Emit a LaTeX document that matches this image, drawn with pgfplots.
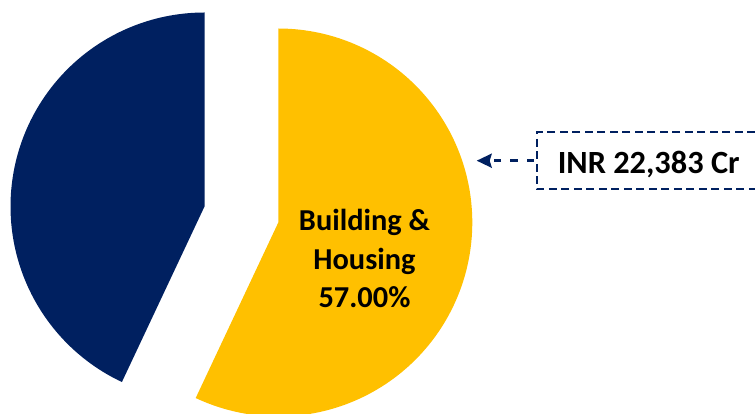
\documentclass[border=0pt]{standalone}
\usepackage{pgfplots}
\pgfplotsset{compat=1.18}
\usepackage{fontspec}
\setmainfont{Carlito}
\usetikzlibrary{arrows.meta}
\definecolor{navy}{RGB}{0,32,96}
\definecolor{gold}{RGB}{255,192,0}
% data: share of Building & Housing (percent)
\def\shareA{57.00}
\def\shareB{43.00}
\begin{document}
\begin{tikzpicture}
\pgfmathsetmacro{\split}{90-\shareA*3.6}
\pgfmathsetmacro{\splitB}{90+\shareB*3.6}
\begin{axis}[
  hide axis, scale only axis,
  width=755bp, height=414bp,
  xmin=0, xmax=755, ymin=0, ymax=414,
  clip=true,
]
% navy slice (43%)
\addplot[fill=navy, draw=none, domain=90:\splitB, samples=120, variable=\t]
  ({204.5+194*cos(\t)},{207.5+194*sin(\t)}) -- (axis cs:204.5,207.5) -- cycle;
% yellow slice (57%)
\addplot[fill=gold, draw=none, domain=\split:90, samples=160, variable=\t]
  ({278.3+194*cos(\t)},{191.5+194*sin(\t)}) -- (axis cs:278.3,191.5) -- cycle;
% label inside
\node[anchor=base, font=\fontsize{30.5}{36}\selectfont\bfseries] at (axis cs:364.5,183) {Building \&};
\node[anchor=base, font=\fontsize{30.5}{36}\selectfont\bfseries] at (axis cs:364.5,144.5) {Housing};
\node[anchor=base, font=\fontsize{30.5}{36}\selectfont\bfseries] at (axis cs:364.5,106) {57.00\%};
% callout
\draw[navy, line width=2bp, dash pattern=on 8bp off 4.5bp]
  (axis cs:755,281.7) -- (axis cs:536.7,281.7) -- (axis cs:536.7,224.7) -- (axis cs:755,224.7);
\draw[navy, line width=2.7bp, dash pattern=on 7.5bp off 9bp, -{Stealth[length=15bp,width=14bp,inset=2bp]}]
  (axis cs:534,253.3) -- (axis cs:476.7,253.3);
\node[anchor=base, font=\fontsize{32.5}{38}\selectfont\bfseries] at (axis cs:648.7,240.7) {INR 22,383 Cr};
\end{axis}
\pgfresetboundingbox
\useasboundingbox (current axis.south west) rectangle (current axis.north east);
\end{tikzpicture}
\end{document}
